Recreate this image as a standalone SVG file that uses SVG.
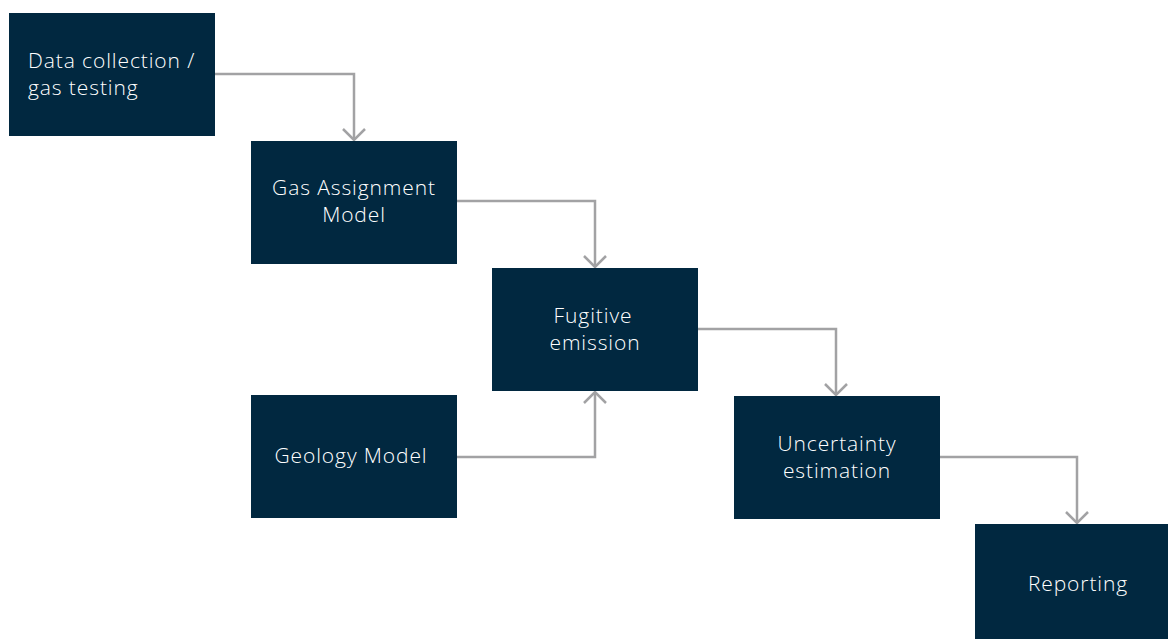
<svg xmlns="http://www.w3.org/2000/svg" width="1168" height="639" viewBox="0 0 1168 639">
<style>
.box{fill:#012840}
.t{fill:#ffffff;font-family:"Open Sans","Liberation Sans",sans-serif;font-size:21px;font-weight:300;letter-spacing:0.9px}
.c{fill:none;stroke:#a2a2a4;stroke-width:2.5}
</style>
<defs>
<marker id="ah" viewBox="0 0 14 24" refX="12.5" refY="12" markerWidth="14" markerHeight="24" markerUnits="userSpaceOnUse" orient="auto">
<path d="M1.5,1 L12.5,12 L1.5,23" fill="none" stroke="#a2a2a4" stroke-width="2.5"/>
</marker>
</defs>
<rect width="1168" height="639" fill="#ffffff"/>
<g id="connectors">
<path class="c" d="M215,74 H354 V140" marker-end="url(#ah)"/>
<path class="c" d="M457,201 H595 V267" marker-end="url(#ah)"/>
<path class="c" d="M698,329 H836 V395" marker-end="url(#ah)"/>
<path class="c" d="M457,457 H595 V392" marker-end="url(#ah)"/>
<path class="c" d="M940,457 H1077 V523" marker-end="url(#ah)"/>
</g>
<g id="n1"><rect class="box" x="9" y="13" width="206" height="123"/>
<text class="t" x="28" y="68">Data collection /</text><text class="t" x="28" y="95">gas testing</text></g>
<g id="n2"><rect class="box" x="251" y="141" width="206" height="123"/>
<text class="t" x="354" y="195" text-anchor="middle">Gas Assignment</text><text class="t" x="354" y="222" text-anchor="middle">Model</text></g>
<g id="n3"><rect class="box" x="492" y="268" width="206" height="123"/>
<text class="t" x="593" y="323" text-anchor="middle">Fugitive</text><text class="t" x="595" y="350" text-anchor="middle">emission</text></g>
<g id="n4"><rect class="box" x="251" y="395" width="206" height="123"/>
<text class="t" x="351" y="463" text-anchor="middle">Geology Model</text></g>
<g id="n5"><rect class="box" x="734" y="396" width="206" height="123"/>
<text class="t" x="837" y="451" text-anchor="middle">Uncertainty</text><text class="t" x="837" y="478" text-anchor="middle">estimation</text></g>
<g id="n6"><rect class="box" x="975" y="524" width="193" height="115"/>
<text class="t" x="1078" y="591" text-anchor="middle">Reporting</text></g>
</svg>
